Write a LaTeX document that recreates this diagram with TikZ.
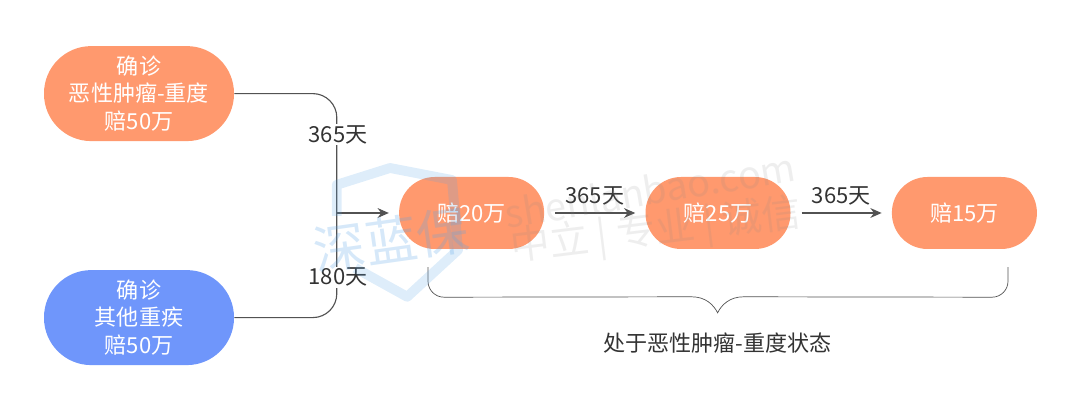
\documentclass[tikz,border=0pt]{standalone}
\usepackage{fontspec}
\setmainfont{Noto Sans CJK SC}
\usepackage{xcolor}
\usetikzlibrary{arrows.meta,positioning,calc}
\definecolor{pillorange}{HTML}{FF996E}
\definecolor{pillblue}{HTML}{6F96FB}
\definecolor{inkdark}{HTML}{333333}
\definecolor{wmblue}{HTML}{5AA5E6}
\definecolor{wmgray}{HTML}{8A8A8A}

\begin{document}
\begin{tikzpicture}[
  pill/.style={rounded corners=0.89cm, minimum width=3.625cm, minimum height=1.8cm, fill=pillorange, text=white, font=\fontsize{15.7}{19.5}\selectfont, inner sep=0pt},
  bigpill/.style={pill, rounded corners=1.18cm, minimum width=4.75cm, minimum height=2.375cm, align=center},
  days/.style={text=inkdark, font=\fontsize{15.7}{19}\selectfont, inner sep=1pt},
  line/.style={draw=inkdark!85, line width=0.8pt},
  >={Stealth[length=8pt,width=7pt]}
]
  \useasboundingbox (0,0) rectangle (27,10.4);

  % Left boxes
  \node[bigpill] (A1) at (3.475,8.06) {确诊\\恶性肿瘤-重度\\赔50万};
  \node[bigpill, fill=pillblue] (A2) at (3.475,2.46) {确诊\\其他重疾\\赔50万};

  % Payout steps
  \node[pill] (P1) at (11.79,5.075) {赔20万};
  \node[pill] (P2) at (17.95,5.075) {赔25万};
  \node[pill] (P3) at (24.11,5.075) {赔15万};

  \coordinate (J) at (8.42,5.075);
  \coordinate (B1) at (10.7,3.72);
  \coordinate (B2) at (25.2,3.72);
  \coordinate (T) at (17.94,2.58);

  % Arrows
  \draw[line, rounded corners=0.6cm] (A1.east) -| (J);
  \draw[line, rounded corners=0.6cm] (A2.east) -| (J);
  \node[days, fill=white] (L1) at (8.45,7.03) {365天};
  \node[days, fill=white] (L2) at (8.45,3.47) {180天};
  \draw[line, ->, shorten >=0.25cm] (J) -- (P1.west);
  \draw[line, ->, shorten >=0.25cm, shorten <=0.27cm] (P1.east) -- node[days, above=4pt] (L3) {365天} (P2.west);
  \draw[line, ->, shorten >=0.25cm, shorten <=0.27cm] (P2.east) -- node[days, above=4pt] (L4) {365天} (P3.west);

  % Brace
  \draw[line, line width=0.5pt] (B1) -- ++(0,-0.35) arc[start angle=180, end angle=270, radius=0.4] -- ($(T)+(-0.65,0.4)$)
    .. controls ($(T)+(-0.3,0.4)$) and ($(T)+(-0.1,0.2)$) .. (T)
    .. controls ($(T)+(0.1,0.2)$) and ($(T)+(0.3,0.4)$) .. ($(T)+(0.65,0.4)$)
    -- ($(B2)+(-0.4,-0.75)$) arc[start angle=270, end angle=360, radius=0.4] -- (B2);
  \node[days, below=0.47cm of T] (state) {处于恶性肿瘤-重度状态};

  % Watermark
  \draw[wmblue, opacity=0.2, line width=7pt, line join=round] (8.42,5.0) -- (8.42,5.78) -- (9.75,6.2) -- (11.3,5.9) -- (11.45,4.15) -- (10.18,2.98) -- (8.88,3.7);
  \node[text=wmblue, opacity=0.25, font=\fontsize{37}{40}\selectfont, rotate=8, inner sep=0pt] (logo) at (9.78,4.4) {深蓝保};
  \node[text=wmgray, opacity=0.14, font=\fontsize{27}{30}\selectfont, rotate=9.5, inner sep=0pt] (wm1) at (16.25,5.65) {shenlanbao.com};
  \node[text=wmgray, opacity=0.14, font=\fontsize{28}{31}\selectfont, rotate=7, inner sep=0pt] (wm2) at (16.4,4.6) {中立 | 专业 | 诚信};
\end{tikzpicture}
\end{document}
